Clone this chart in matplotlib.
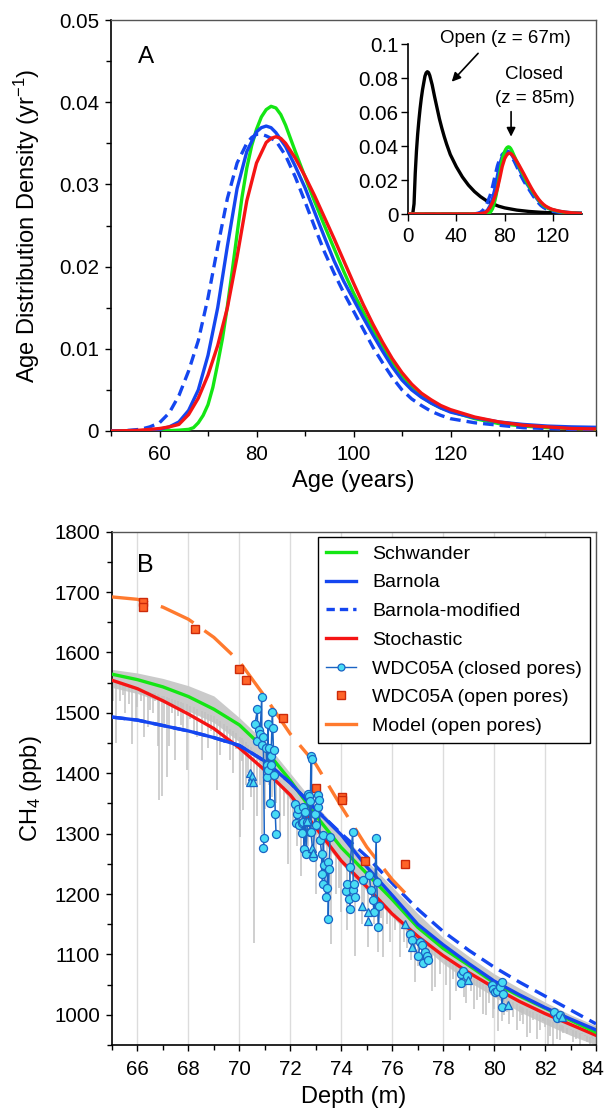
import numpy as np
import matplotlib
matplotlib.use("Agg")
import matplotlib.pyplot as plt
import matplotlib.transforms as mtransforms
from matplotlib.ticker import MultipleLocator
from matplotlib.lines import Line2D

plt.rcParams['font.family'] = ['Liberation Sans', 'DejaVu Sans']
plt.rcParams['mathtext.fontset'] = 'custom'
plt.rcParams['mathtext.rm'] = 'Liberation Sans'
plt.rcParams['mathtext.it'] = 'Liberation Sans:italic'
plt.rcParams['mathtext.bf'] = 'Liberation Sans:bold'

NaN = float('nan')

# ---------------- Panel A : age distributions (closed, z = 85 m) ----------------
green_age = [50, 55, 60, 64, 66, 67, 68, 69, 70, 71, 72, 73, 74, 75, 76, 77, 78, 79, 80, 81, 82, 83, 84, 85, 86,
             88, 90, 92, 94, 96, 98, 100, 102, 104, 106, 108, 110, 112, 114, 116, 118, 120, 125, 130, 135, 140, 145, 150]
green_val = [0, 0, 0, 0.0001, 0.0002, 0.0004, 0.0010, 0.0019, 0.0032, 0.0053, 0.0082, 0.0113, 0.0152, 0.0195,
             0.0240, 0.0284, 0.0320, 0.0347, 0.0367, 0.0382, 0.0391, 0.0395, 0.0393, 0.0385, 0.0372,
             0.0340, 0.0309, 0.0279, 0.0250, 0.0222, 0.0194, 0.0168, 0.0145, 0.0123, 0.0103, 0.0084, 0.0066,
             0.0052, 0.0042, 0.0034, 0.0028, 0.0024, 0.0015, 0.0009, 0.0006, 0.0004, 0.0003, 0.0002]

blue_age = [50, 56, 58, 60, 62, 64, 66, 68, 70, 72, 74, 76, 78, 80, 81, 82, 83, 84, 86, 88, 90, 92, 94, 96, 98,
            100, 102, 104, 106, 108, 110, 112, 114, 116, 118, 120, 125, 130, 135, 140, 145, 150]
blue_val = [0, 0, 0.0001, 0.0002, 0.0005, 0.0011, 0.0025, 0.0050, 0.0092, 0.0150, 0.0225, 0.0295, 0.0340,
            0.0364, 0.0369, 0.0371, 0.0369, 0.0363, 0.0346, 0.0322, 0.0296, 0.0266, 0.0236, 0.0207, 0.0182,
            0.0160, 0.0138, 0.0117, 0.0097, 0.0078, 0.0062, 0.0050, 0.0041, 0.0034, 0.0028, 0.0023, 0.0016,
            0.0011, 0.0008, 0.0006, 0.0005, 0.00045]

bmod_age = [50, 52, 54, 56, 58, 60, 62, 64, 66, 68, 70, 72, 74, 76, 78, 79, 80, 81, 82, 84, 86, 88, 90, 92, 94,
            96, 98, 100, 102, 104, 106, 108, 110, 112, 114, 116, 118, 120, 125, 130, 135, 140, 145, 150]
bmod_val = [0, 0, 0.0001, 0.0002, 0.0005, 0.0010, 0.0022, 0.0043, 0.0073, 0.0110, 0.0162, 0.0224, 0.0283,
            0.0326, 0.0350, 0.0357, 0.0361, 0.0361, 0.0359, 0.0353, 0.0335, 0.0309, 0.0279, 0.0248, 0.0218,
            0.0192, 0.0168, 0.0146, 0.0124, 0.0102, 0.0083, 0.0065, 0.0050, 0.0039, 0.0031, 0.0024, 0.0019,
            0.0015, 0.0010, 0.0007, 0.0004, 0.0003, 0.0002, 0.0001]

red_age = [50, 54, 56, 58, 60, 62, 64, 66, 68, 70, 72, 74, 76, 78, 80, 82, 83, 84, 85, 86, 88, 90, 92, 94, 96,
           98, 100, 102, 104, 106, 108, 110, 112, 114, 116, 118, 120, 125, 130, 135, 140, 145, 150]
red_val = [0, 0.00005, 0.0001, 0.0002, 0.0003, 0.0005, 0.0008, 0.0020, 0.0040, 0.0068, 0.0104, 0.0150,
           0.0212, 0.0280, 0.0326, 0.0351, 0.0356, 0.0358, 0.0356, 0.0350, 0.0332, 0.0310, 0.0286, 0.0260,
           0.0234, 0.0207, 0.0180, 0.0154, 0.0130, 0.0108, 0.0088, 0.0071, 0.0057, 0.0046, 0.0038, 0.0031,
           0.0026, 0.0017, 0.0011, 0.0007, 0.0005, 0.0003, 0.00025]

# inset : open pores (z = 67 m)
open_age = [0, 3, 4, 5, 6, 7, 8, 9, 10, 11, 12, 13, 14, 15, 16, 17, 18, 20, 22, 24, 26, 28, 30, 32, 35, 40, 45,
            50, 55, 60, 65, 70, 75, 80, 90, 100, 110, 120, 130, 144]
open_val = [0, 0, 0.0005, 0.006, 0.024, 0.037, 0.047, 0.055, 0.062, 0.068, 0.073, 0.077, 0.081, 0.083, 0.0837,
            0.0832, 0.0815, 0.076, 0.069, 0.0625, 0.056, 0.0505, 0.0455, 0.041, 0.0350, 0.0278, 0.0218,
            0.0170, 0.0132, 0.0102, 0.0078, 0.0060, 0.0046, 0.0036, 0.0023, 0.0015, 0.0010, 0.0007, 0.0005, 0.0003]

a_yticks = [0, 0.01, 0.02, 0.03, 0.04, 0.05]
a_yticklabels = ['0', '0.01', '0.02', '0.03', '0.04', '0.05']
i_xticks = [0, 40, 80, 120]
i_yticks = [0, 0.02, 0.04, 0.06, 0.08, 0.1]
i_yticklabels = ['0', '0.02', '0.04', '0.06', '0.08', '0.1']

# ---------------- Panel B : CH4 vs depth ----------------
curve_depth = [65, 66, 67, 68, 69, 70, 71, 72, 73, 74, 75, 76, 77, 78, 79, 80, 81, 82, 83, 84]
schwander_ppb = [1564, 1555, 1543, 1527, 1506, 1480, 1440, 1388, 1330, 1277, 1234, 1191, 1145, 1110, 1082,
                 1053, 1031, 1011, 991, 971]
barnola_ppb = [1493, 1488, 1479, 1470, 1459, 1446, 1420, 1384, 1340, 1298, 1245, 1198, 1150, 1116, 1085,
               1056, 1033, 1012, 993, 975]
barnola_mod_ppb = [1493, 1488, 1479, 1470, 1459, 1446, 1420, 1384, 1340, 1300, 1262, 1218, 1175, 1138, 1107,
                   1079, 1054, 1031, 1008, 985]
stochastic_ppb = [1554, 1540, 1520, 1498, 1474, 1442, 1405, 1364, 1310, 1255, 1212, 1167, 1130, 1098, 1070,
                  1045, 1022, 1002, 984, 966]

model_open_depth = [65, 66, 67, 68, 69, 70, 71, 72, 73, 74, 75, 76, 76.5]
model_open_ppb = [1692, 1688, 1675, 1655, 1625, 1585, 1527, 1465, 1415, 1345, 1278, 1224, 1202]

open_depth = [66.2, 66.2, 68.25, 70.0, 70.25, 71.7, 73.0, 74.02, 74.02, 74.94, 76.52]
open_ppb = [1684, 1675, 1639, 1572, 1555, 1492, 1376, 1361, 1355, 1254, 1249]

closed_depth = [70.61, 70.71, 70.71, 70.78, 70.81, 70.88, 70.88, 70.94, 70.98, 70.94, NaN,
                71.05, 71.07, 71.14, 71.10, 71.14, 71.18, 71.20, 71.23, 71.23, 71.30, 71.31, 71.34, 71.37,
                71.41, 71.44, NaN,
                72.18, 72.22, 72.25, 72.32, 72.36, 72.45, 72.45, 72.51, 72.51, 72.54, 72.58, 72.62, 72.67,
                72.71, 72.75, 72.77, 72.77, 72.81, 72.84, 72.81, 72.90, 72.97, 72.99, 73.07, 73.10, 73.14,
                73.17, 73.23, 73.23, 73.27, 73.30, 73.32, 73.40, 73.43, 73.49, 73.49, 73.52, 73.56, NaN,
                74.19, 74.21, 74.32, 74.34, 74.34, 74.45, 74.47, 74.50, 74.54, NaN,
                74.87, 75.10, 75.16, 75.24, 75.29, 75.37, 75.39, 75.46, 75.50, NaN,
                76.70, 76.76, 77.03, 77.09, 77.16, 77.22, 77.29, 77.35, 77.42, NaN,
                78.70, 78.70, 78.79, 78.92, NaN,
                79.91, 79.97, 80.04, 80.10, 80.23, 80.30, 80.30, 80.36, NaN,
                82.37, 82.46, 82.59]
closed_ppb = [1481, 1506, 1454, 1471, 1465, 1527, 1446, 1460, 1293, 1276, NaN,
              1442, 1414, 1481, 1394, 1406, 1441, 1351, 1428, 1413, 1502, 1475, 1438, 1397,
              1332, 1300, NaN,
              1349, 1317, 1333, 1341, 1314, 1301, 1317, 1344, 1319, 1274, 1336, 1267, 1319,
              1365, 1363, 1354, 1303, 1428, 1424, 1303, 1261, 1333, 1314, 1344, 1364, 1356,
              1289, 1267, 1233, 1217, 1297, 1248, 1195, 1210, 1253, 1159, 1242, 1294, NaN,
              1205, 1217, 1191, 1176, 1245, 1303, 1206, 1217, 1195, NaN,
              1223, 1232, 1206, 1190, 1170, 1293, 1220, 1145, 1181, NaN,
              1134, 1124, 1097, 1120, 1115, 1086, 1104, 1097, 1091, NaN,
              1068, 1052, 1073, 1065, NaN,
              1049, 1043, 1038, 1040, 1046, 1054, 1013, 1034, NaN,
              1005, 995, 999]

tri_depth = [70.42, 70.49, 70.40, 70.52, 72.64, 72.84, 72.88, 74.80, 75.06, 75.04, 76.50, 76.77, 78.99,
             80.56, 82.66]
tri_ppb = [1400, 1395, 1386, 1386, 1321, 1277, 1268, 1181, 1170, 1156, 1151, 1113, 1058, 1017, 996]

# high-resolution CH4 record (grey): dense band + downward spikes
record_depth = [65, 66, 67, 68, 69, 70, 71, 72, 73, 74, 75, 76, 77, 78, 79, 80, 81, 82, 83, 84]
record_top = [1572, 1566, 1557, 1545, 1528, 1492, 1452, 1400, 1348, 1300, 1255, 1212, 1168, 1128, 1097,
              1068, 1044, 1021, 1000, 982]
record_low = [1542, 1532, 1518, 1503, 1484, 1452, 1410, 1356, 1300, 1250, 1205, 1162, 1120, 1085, 1055,
              1030, 1005, 985, 966, 950]
spike_depth = [65.15, 65.3, 65.5, 65.8, 66.0, 66.26, 66.4, 66.6, 66.8, 66.85, 66.95, 67.15, 67.24, 67.47,
               67.7, 67.93, 68.2, 68.52, 68.78, 69.0, 69.11, 69.4, 69.63, 69.85, 70.03, 70.16, 70.35, 70.59,
               70.8, 71.0, 71.3, 71.6, 71.9, 72.1, 72.4, 72.7, 73.0, 73.3, 73.59, 73.8, 74.0, 74.21, 74.54,
               74.8, 75.06, 75.3, 75.46, 75.65, 75.9, 76.1, 76.3, 76.6, 76.9, 77.22, 77.4, 77.55, 77.68,
               77.88, 78.1, 78.27, 78.5, 78.8, 79.1, 79.32, 79.58, 79.8, 80.0, 80.17, 80.4, 80.6, 80.76,
               81.0, 81.28, 81.54, 81.8, 82.0, 82.13, 82.33, 82.59, 82.7, 82.85, 83.0, 83.11, 83.37, 83.55,
               83.77, 83.9,
               65.05, 65.45, 65.65, 65.95, 66.15, 66.5, 66.7, 67.05, 67.35, 67.6, 67.8, 68.05, 68.35, 68.65,
               68.9, 69.25, 69.5, 69.75, 70.1, 70.25, 70.45, 70.7, 70.9,
               78.4, 78.65, 78.9, 79.2, 79.45, 79.7, 79.95, 80.3, 80.5, 80.9, 81.15, 81.4, 81.7, 81.9, 82.2,
               82.45, 82.65, 83.2, 83.45, 83.65, 83.85, 81.1, 79.0, 77.0, 76.75, 76.45, 75.8, 75.55, 74.9,
               74.35, 73.9, 73.45, 72.9, 72.55, 72.25, 71.75, 71.45, 71.15]
spike_low = [1450, 1520, 1500, 1448, 1510, 1460, 1476, 1500, 1445, 1355, 1362, 1394, 1445, 1422,
             1480, 1405, 1470, 1422, 1441, 1460, 1372, 1450, 1422, 1440, 1294, 1339, 1400, 1119,
             1380, 1340, 1360, 1300, 1250, 1320, 1230, 1280, 1200, 1240, 1118, 1200, 1170, 1140, 1098,
             1150, 1112, 1150, 1104, 1096, 1120, 1140, 1096, 1110, 1054, 1079, 1090, 1040, 1046,
             1068, 1050, 991, 1040, 1030, 1040, 1024, 1002, 1020, 1010, 974, 1000, 985, 996,
             990, 963, 991, 975, 980, 952, 949, 958, 970, 969, 975, 955, 949, 965,
             952, 960,
             1520, 1530, 1515, 1490, 1520, 1505, 1520, 1480, 1500, 1495, 1470, 1490, 1460, 1480,
             1470, 1430, 1460, 1400, 1420, 1380, 1360, 1330, 1300,
             1060, 1045, 1020, 1010, 1030, 1000, 995, 990, 1005, 975, 985, 970, 960, 990, 965,
             960, 975, 960, 970, 955, 965, 1000, 1050, 1080, 1090, 1120, 1150, 1160, 1170,
             1180, 1210, 1230, 1260, 1290, 1280, 1330, 1350, 1380]

b_xticks = [66, 68, 70, 72, 74, 76, 78, 80, 82, 84]

# ---------------- styling ----------------
GREEN = '#14E614'
BLUE = '#1446F0'
RED = '#F51414'
ORANGE = '#FF7A2E'
SQ_FACE = '#FF6428'
SQ_EDGE = '#CC2A0A'
CYAN = '#48DCF4'
CEDGE = '#1A64C4'
GREY = '#C2C2C2'
LW = 2.4

fig = plt.figure(figsize=(6.05, 11.11), dpi=100)
fig.patch.set_facecolor('white')

axA = fig.add_axes([111 / 605, 1 - 431 / 1111, 485 / 605, 411 / 1111])
axB = fig.add_axes([112 / 605, 1 - 1045 / 1111, 484 / 605, 513.3 / 1111])
axI = fig.add_axes([408 / 605, 1 - 214 / 1111, 174 / 605, 170 / 1111])


def style_axes(ax):
    for s in ['left', 'bottom']:
        ax.spines[s].set_linewidth(1.2)
        ax.spines[s].set_color('black')
    for s in ['top', 'right']:
        ax.spines[s].set_linewidth(1.0)
        ax.spines[s].set_color('#555555')
    ax.tick_params(which='both', direction='out', top=False, right=False, width=1.0, colors='black')
    ax.tick_params(which='major', length=4.5, labelsize=14.8)
    ax.tick_params(which='minor', length=3.5)
    ax.tick_params(axis='y', pad=4)
    ax.tick_params(axis='x', pad=5.5)


# ---- Panel A ----
axA.plot(green_age, green_val, color=GREEN, lw=LW, zorder=3)
axA.plot(blue_age, blue_val, color=BLUE, lw=LW, zorder=4)
axA.plot(bmod_age, bmod_val, color=BLUE, lw=LW, dashes=(3.2, 1.8), zorder=5)
axA.plot(red_age, red_val, color=RED, lw=LW, zorder=6)
axA.set_xlim(50, 150)
axA.set_ylim(0, 0.05)
axA.xaxis.set_major_locator(MultipleLocator(20))
axA.xaxis.set_minor_locator(MultipleLocator(10))
axA.set_yticks(a_yticks)
axA.set_yticklabels(a_yticklabels)
axA.yaxis.set_minor_locator(MultipleLocator(0.005))
style_axes(axA)
axA.set_xlabel('Age (years)', fontsize=17)
axA.set_ylabel('Age Distribution Density (yr$^{-1}$)', fontsize=17)
axA.xaxis.set_label_coords(0.5, -(481 - 431) / 411)
axA.xaxis.label.set_va('center')
axA.yaxis.set_label_coords((27 - 111) / 485, 0.5)
axA.yaxis.label.set_va('center')
axA.text((146 - 111) / 485, (431 - 57) / 411, 'A', transform=axA.transAxes, fontsize=17.5,
         ha='center', va='center')

# ---- Inset ----
axI.plot(open_age, open_val, color='black', lw=LW, zorder=3)
axI.plot([0] + bmod_age, [0] + bmod_val, color=BLUE, lw=LW, dashes=(3.2, 1.8), zorder=4)
axI.plot([0] + blue_age, [0] + blue_val, color=BLUE, lw=LW, zorder=4)
axI.plot([0] + green_age, [0] + green_val, color=GREEN, lw=LW, zorder=5)
axI.plot([0] + red_age, [0] + red_val, color=RED, lw=LW, zorder=6)
axI.set_xlim(0, 144)
axI.set_ylim(0, 0.1)
axI.set_xticks(i_xticks)
axI.set_yticks(i_yticks)
axI.set_yticklabels(i_yticklabels)
axI.spines['top'].set_visible(False)
axI.spines['right'].set_visible(False)
for s in ['left', 'bottom']:
    axI.spines[s].set_linewidth(1.2)
axI.tick_params(which='both', direction='out', length=5, width=1.0, labelsize=14.8)
axI.tick_params(axis='y', pad=2)
axI.tick_params(axis='x', pad=4)
axI.patch.set_alpha(0)
axI.text(81, 0.1034, 'Open (z = 67m)', fontsize=13.5, ha='center', va='center', clip_on=False)
axI.annotate('', xy=(36.2, 0.0778), xytext=(58, 0.0945),
             arrowprops=dict(arrowstyle='-|>', color='black', lw=1.2, mutation_scale=13, shrinkA=0, shrinkB=0),
             annotation_clip=False)
axI.text(104.3, 0.0818, 'Closed', fontsize=13.5, ha='center', va='center', clip_on=False)
axI.text(104.7, 0.0680, '(z = 85m)', fontsize=13.5, ha='center', va='center', clip_on=False)
axI.annotate('', xy=(85.3, 0.0455), xytext=(85.3, 0.0602),
             arrowprops=dict(arrowstyle='-|>', color='black', lw=1.2, mutation_scale=13, shrinkA=0, shrinkB=0),
             annotation_clip=False)

# ---- Panel B ----
for xv in b_xticks:
    axB.axvline(xv, color='#DCDCDC', lw=1.0, zorder=0)
axB.fill_between(record_depth, record_low, record_top, color='#CACACA', lw=0, zorder=1)
spike_top = np.interp(spike_depth, record_depth, record_low) + 10
axB.vlines(spike_depth, spike_low, spike_top, color=GREY, lw=1.1, zorder=1)

axB.plot(curve_depth, stochastic_ppb, color=RED, lw=LW, zorder=3)
axB.plot(curve_depth, schwander_ppb, color=GREEN, lw=LW, zorder=4)
axB.plot(curve_depth, barnola_mod_ppb, color=BLUE, lw=LW, dashes=(4, 2.2), zorder=5)
axB.plot(curve_depth, barnola_ppb, color=BLUE, lw=LW, zorder=5)
axB.plot(model_open_depth, model_open_ppb, color=ORANGE, lw=LW, dashes=(11, 4), zorder=6)
axB.plot(open_depth, open_ppb, ls='none', marker='s', ms=6.4, mfc=SQ_FACE, mec=SQ_EDGE, mew=1.0, zorder=7)
axB.plot(closed_depth, closed_ppb, '-', color=CEDGE, lw=1.1, marker='o', ms=5.8, mfc=CYAN, mec=CEDGE,
         mew=0.9, zorder=8)
axB.plot(tri_depth, tri_ppb, ls='none', marker='^', ms=6.4, mfc=CYAN, mec=CEDGE, mew=0.9, zorder=8)

axB.set_xlim(65, 84)
axB.set_ylim(950, 1800)
axB.set_xticks(b_xticks)
axB.xaxis.set_minor_locator(MultipleLocator(1))
axB.yaxis.set_major_locator(MultipleLocator(100))
axB.yaxis.set_minor_locator(MultipleLocator(50))
style_axes(axB)
axB.tick_params(axis='x', pad=6.5)
# keep the last depth label inside the canvas
last_lab = axB.get_xticklabels()[-1]
last_lab.set_transform(last_lab.get_transform() +
                       mtransforms.ScaledTranslation(-3 / 100, 0, fig.dpi_scale_trans))
axB.set_xlabel('Depth (m)', fontsize=17)
axB.set_ylabel('CH$_4$ (ppb)', fontsize=17)
axB.xaxis.set_label_coords(0.5, -(1097 - 1045) / 513.3)
axB.xaxis.label.set_va('center')
axB.yaxis.set_label_coords((31 - 112) / 484, 0.5)
axB.yaxis.label.set_va('center')
axB.text((145.5 - 112) / 484, (1045 - 565) / 513.3, 'B', transform=axB.transAxes, fontsize=18,
         ha='center', va='center')

handles = [
    Line2D([], [], color=GREEN, lw=LW),
    Line2D([], [], color=BLUE, lw=LW),
    Line2D([], [], color=BLUE, lw=LW, dashes=(2.5, 1.5)),
    Line2D([], [], color=RED, lw=LW),
    Line2D([], [], color=CEDGE, lw=1.0, marker='o', ms=5, mfc=CYAN, mec=CEDGE, mew=0.9),
    Line2D([], [], ls='none', marker='s', ms=6, mfc=SQ_FACE, mec=SQ_EDGE, mew=1.0),
    Line2D([], [], color=ORANGE, lw=LW),
]
labels = ['Schwander', 'Barnola', 'Barnola-modified', 'Stochastic', 'WDC05A (closed pores)',
          'WDC05A (open pores)', 'Model (open pores)']
leg = axB.legend(handles, labels, loc='upper right', bbox_to_anchor=(0.9876, 0.9897), borderaxespad=0,
                 fontsize=14, frameon=True, fancybox=False, framealpha=1, edgecolor='black',
                 handlelength=1.54, handletextpad=0.82, labelspacing=0.57, borderpad=0.42)
leg.get_frame().set_linewidth(1.0)
leg.set_zorder(20)

fig.savefig('out.png', dpi=100, facecolor='white')
